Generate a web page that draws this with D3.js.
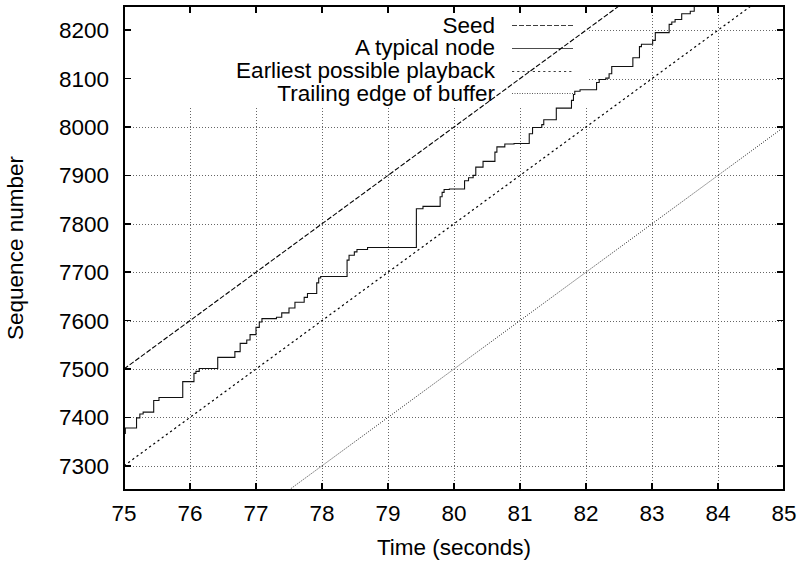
<!DOCTYPE html>
<html>
<head>
<meta charset="utf-8">
<script src="https://cdn.jsdelivr.net/npm/d3@7/dist/d3.min.js"></script>
<style>
  html, body { margin: 0; padding: 0; background: #fff; }
  svg { display: block; font-family: "Liberation Sans", Arial, Helvetica, sans-serif; }
</style>
</head>
<body>
<svg id="chart" width="802" height="563"></svg>
<script>
// Axis ticks
const xTicks = [75, 76, 77, 78, 79, 80, 81, 82, 83, 84, 85];
const yTicks = [7300, 7400, 7500, 7600, 7700, 7800, 7900, 8000, 8100, 8200];

// Reference lines (start/end of each straight line)
const seedTime = [75, 85];
const seedSeq = [7500, 8500];
const earliestTime = [75, 85];
const earliestSeq = [7300, 8300];
const trailingTime = [75, 85];
const trailingSeq = [7000, 8000];

// A typical node: time of each change and the sequence number reached
const nodeTime = [
  75.00, 75.02, 75.19, 75.24, 75.29, 75.45, 75.53, 75.89, 76.06, 76.09,
  76.14, 76.42, 76.68, 76.76, 76.86, 76.91, 77.00, 77.05, 77.09, 77.31,
  77.39, 77.50, 77.59, 77.73, 77.78, 77.92, 77.95, 77.98, 78.38, 78.41,
  78.49, 78.53, 78.69, 79.43, 79.53, 79.79, 79.82, 79.85, 79.93, 80.16,
  80.22, 80.29, 80.33, 80.44, 80.62, 80.65, 80.77, 80.91, 81.14, 81.19,
  81.33, 81.36, 81.55, 81.78, 81.81, 81.83, 81.91, 82.16, 82.20, 82.30,
  82.35, 82.39, 82.71, 82.81, 82.84, 83.01, 83.05, 83.26, 83.30, 83.35,
  83.45, 83.58, 83.64
];
const nodeSeq = [
  7367, 7378, 7399, 7407, 7411, 7435, 7441, 7474, 7491, 7495,
  7501, 7524, 7536, 7553, 7560, 7571, 7586, 7597, 7604, 7607,
  7616, 7626, 7638, 7648, 7656, 7678, 7688, 7691, 7725, 7735,
  7742, 7747, 7751, 7831, 7836, 7856, 7865, 7871, 7872, 7889,
  7895, 7900, 7917, 7929, 7948, 7959, 7965, 7966, 7986, 7999,
  8005, 8015, 8039, 8055, 8067, 8074, 8077, 8092, 8098, 8101,
  8110, 8125, 8143, 8166, 8171, 8179, 8195, 8212, 8217, 8222,
  8234, 8239, 8262
];

const legendLabels = ["Seed", "A typical node", "Earliest possible playback", "Trailing edge of buffer"];

const svg = d3.select("#chart");
const plotL = 124, plotR = 784, plotT = 6, plotB = 490;
const fontSize = 22.5;

const x = d3.scaleLinear().domain([75, 85]).range([plotL, plotR]);
const y = d3.scaleLinear().domain([7250, 8250]).range([plotB, plotT]);

svg.append("defs").append("clipPath").attr("id", "plotClip")
  .append("rect").attr("x", plotL).attr("y", plotT)
  .attr("width", plotR - plotL).attr("height", plotB - plotT);

// Dotted grid
const grid = svg.append("g").attr("stroke", "#666").attr("stroke-width", 1)
  .attr("stroke-dasharray", "1,2").attr("shape-rendering", "crispEdges");
grid.selectAll("line.v").data(xTicks.slice(1, -1)).join("line").attr("class", "v")
  .attr("x1", d => Math.round(x(d)) + 0.5).attr("x2", d => Math.round(x(d)) + 0.5)
  .attr("y1", plotB).attr("y2", plotT);
grid.selectAll("line.h").data(yTicks).join("line").attr("class", "h")
  .attr("x1", plotL).attr("x2", plotR)
  .attr("y1", d => Math.round(y(d)) + 0.5).attr("y2", d => Math.round(y(d)) + 0.5);

// Keep the key area clear of grid lines
svg.append("rect").attr("x", plotL + 1).attr("y", plotT + 1)
  .attr("width", 588 - plotL).attr("height", 105 - plotT).attr("fill", "#fff");

const plot = svg.append("g").attr("clip-path", "url(#plotClip)");

const straight = (ts, vs) => d3.line()(ts.map((t, i) => [x(t), y(vs[i])]));

const styles = [
  { stroke: "#000", dash: "5,2", width: 1.1 },
  { stroke: "#111", dash: null, width: 1.1 },
  { stroke: "#000", dash: "2.2,3", width: 1.2 },
  { stroke: "#222", dash: "1,1.5", width: 1 }
];

plot.append("path").attr("d", straight(trailingTime, trailingSeq))
  .attr("fill", "none").attr("stroke", styles[3].stroke)
  .attr("stroke-width", styles[3].width).attr("stroke-dasharray", styles[3].dash);
plot.append("path").attr("d", straight(earliestTime, earliestSeq))
  .attr("fill", "none").attr("stroke", styles[2].stroke)
  .attr("stroke-width", styles[2].width).attr("stroke-dasharray", styles[2].dash);
plot.append("path").attr("d", straight(seedTime, seedSeq))
  .attr("fill", "none").attr("stroke", styles[0].stroke)
  .attr("stroke-width", styles[0].width).attr("stroke-dasharray", styles[0].dash);

const stepLine = d3.line().x(d => x(d[0])).y(d => y(d[1])).curve(d3.curveStepAfter);
plot.append("path").attr("d", stepLine(nodeTime.map((t, i) => [t, nodeSeq[i]])))
  .attr("fill", "none").attr("stroke", styles[1].stroke).attr("stroke-width", styles[1].width);

// Frame and inward ticks on all four sides
const tickLen = 7;
const axes = svg.append("g").attr("stroke", "#000").attr("stroke-width", 1.5)
  .attr("shape-rendering", "crispEdges");
axes.append("rect").attr("x", plotL).attr("y", plotT)
  .attr("width", plotR - plotL).attr("height", plotB - plotT).attr("fill", "none");
axes.selectAll("line.xb").data(xTicks).join("line").attr("class", "xb")
  .attr("x1", d => x(d)).attr("x2", d => x(d)).attr("y1", plotB).attr("y2", plotB - tickLen);
axes.selectAll("line.xt").data(xTicks).join("line").attr("class", "xt")
  .attr("x1", d => x(d)).attr("x2", d => x(d)).attr("y1", plotT).attr("y2", plotT + tickLen);
axes.selectAll("line.yl").data(yTicks).join("line").attr("class", "yl")
  .attr("x1", plotL).attr("x2", plotL + tickLen).attr("y1", d => y(d)).attr("y2", d => y(d));
axes.selectAll("line.yr").data(yTicks).join("line").attr("class", "yr")
  .attr("x1", plotR).attr("x2", plotR - tickLen).attr("y1", d => y(d)).attr("y2", d => y(d));

// Tick labels
svg.append("g").selectAll("text").data(xTicks).join("text")
  .attr("x", d => x(d)).attr("y", 521).attr("text-anchor", "middle")
  .attr("font-size", fontSize).attr("fill", "#000").text(d => d);
svg.append("g").selectAll("text").data(yTicks).join("text")
  .attr("x", 109).attr("y", d => y(d) + 8).attr("text-anchor", "end")
  .attr("font-size", fontSize).attr("fill", "#000").text(d => d);

// Axis titles
svg.append("text").attr("x", (plotL + plotR) / 2).attr("y", 555)
  .attr("text-anchor", "middle").attr("font-size", fontSize).text("Time (seconds)");
svg.append("text").attr("transform", `translate(23,${(plotT + plotB) / 2}) rotate(-90)`)
  .attr("text-anchor", "middle").attr("font-size", fontSize).text("Sequence number");

// Key
const key = svg.append("g");
legendLabels.forEach((label, i) => {
  const cy = 25 + i * 22.8;
  key.append("text").attr("x", 495).attr("y", cy + 7.5).attr("text-anchor", "end")
    .attr("font-size", fontSize).attr("fill", "#000").text(label);
  key.append("line").attr("x1", 512).attr("x2", 573)
    .attr("y1", Math.round(cy) + 0.5).attr("y2", Math.round(cy) + 0.5)
    .attr("stroke", styles[i].stroke).attr("stroke-width", styles[i].width)
    .attr("stroke-dasharray", styles[i].dash)
    .attr("opacity", 0.75);
});
</script>
</body>
</html>
